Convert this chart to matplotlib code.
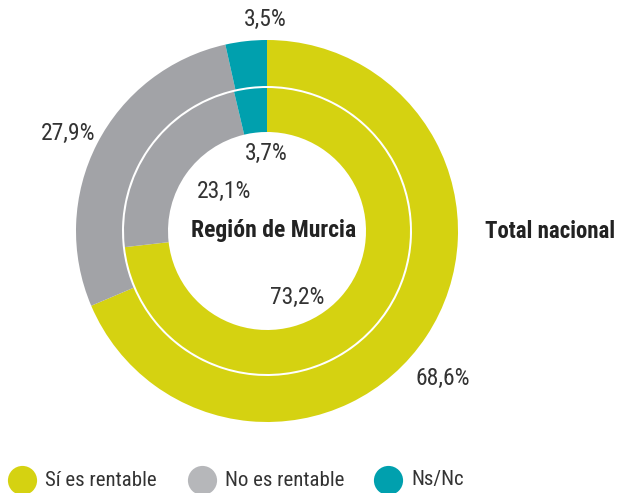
import matplotlib.pyplot as plt
from matplotlib.lines import Line2D

# datos
categorias = ["Sí es rentable", "No es rentable", "Ns/Nc"]
total_nacional = [68.6, 27.9, 3.5]
region_murcia = [73.2, 23.1, 3.7]
colores = ["#D5D211", "#A2A3A7", "#00A0AE"]
colores_leyenda = ["#D5D211", "#B6B7BA", "#00A0AE"]

plt.rcParams['font.family'] = ['Roboto Condensed', 'DejaVu Sans']

W, H = 620, 493
fig = plt.figure(figsize=(W / 100, H / 100), dpi=100)
# ejes en pixeles: centro en (267, 231)
ax = fig.add_axes([67 / W, (H - 431) / H, 400 / W, 400 / H])

# anillo exterior: total nacional
ax.pie(total_nacional, radius=191, colors=colores,
       startangle=90, counterclock=False,
       wedgeprops=dict(width=46, linewidth=0))
# anillo interior: Región de Murcia
ax.pie(region_murcia, radius=143, colors=colores,
       startangle=90, counterclock=False,
       wedgeprops=dict(width=44, linewidth=0))
ax.set_xlim(-200, 200)
ax.set_ylim(-200, 200)
ax.set_aspect('auto')
ax.axis('off')

def fmt(v):
    return f"{v:.1f}%".replace(".", ",")

pos_ext = [(176, -147), (-199, 98), (-2, 212)]
pos_int = [(30, -66), (-43, 40), (-1, 78)]
for v, (x, y) in zip(total_nacional, pos_ext):
    ax.text(x, y, fmt(v), ha='center', va='center', fontsize=17, color='#333333')
for v, (x, y) in zip(region_murcia, pos_int):
    ax.text(x, y, fmt(v), ha='center', va='center', fontsize=17, color='#333333')

ax.text(7, 0, "Región de Murcia", ha='center', va='center', fontsize=17,
        fontweight='bold', color='#222222')
ax.text(283, 0, "Total nacional", ha='center', va='center', fontsize=16.5,
        fontweight='bold', color='#222222')
for t in ax.texts:
    t.set_clip_on(False)

# leyenda manual
ley_x = [22, 202, 388]
ley_y = 480
for x, c, nombre in zip(ley_x, colores_leyenda, categorias):
    fig.add_artist(Line2D([x / W], [1 - ley_y / H], marker='o', linestyle='none',
                          markersize=21, markerfacecolor=c, markeredgewidth=0,
                          transform=fig.transFigure))
    fig.text((x + 23) / W, 1 - ley_y / H, nombre, ha='left', va='center',
             fontsize=15, color='#333333')

fig.savefig("out.png", dpi=100)
